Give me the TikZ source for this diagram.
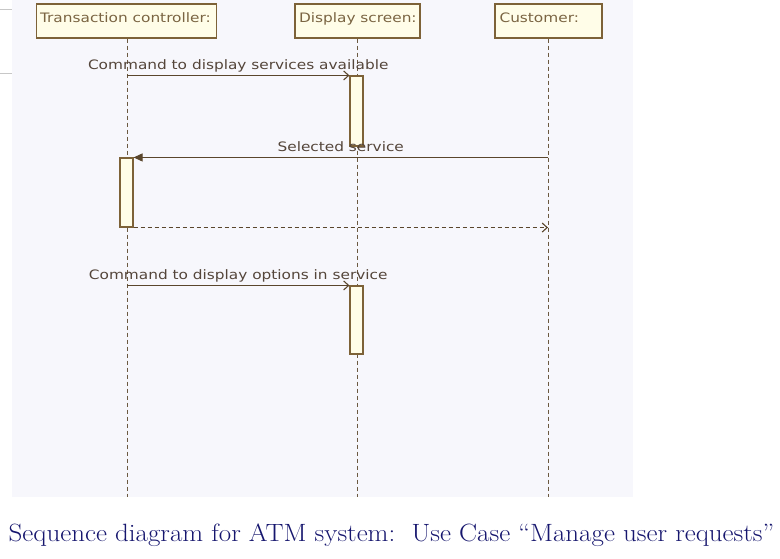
\documentclass[tikz,border=0pt]{standalone}
\usepackage{fontspec}
\newfontfamily\umlfont[FakeStretch=1.18]{DejaVu Sans}
\newfontfamily\captionfont[FakeStretch=1.08]{Latin Modern Roman}
\usetikzlibrary{arrows.meta}

\begin{document}
\begin{tikzpicture}[x=1pt,y=-1pt,line width=1.1pt,
  actor/.style={draw=umlbox,fill=umlfill,minimum width=#1,minimum height=34pt,inner sep=0pt},
  actorlabel/.style={anchor=base west,inner sep=0pt,text=umltext,font=\umlfont\fontsize{13}{15}\selectfont},
  activation/.style={draw=umlbox,fill=umlfill,minimum width=13pt,minimum height=#1,inner sep=0pt},
  lifeline/.style={draw=umlline!90,line width=1pt,dash pattern=on 4pt off 3pt},
  msg/.style={draw=umlline,-{Straight Barb[length=5pt,width=9pt]}},
  reply/.style={msg,dash pattern=on 4pt off 3pt},
  signal/.style={draw=umlline,-{Triangle[length=9pt,width=8pt]}},
  msglabel/.style={anchor=base,yshift=5.5pt,inner sep=0pt,text=msgtext,font=\umlfont\fontsize{13}{15}\selectfont}]
  \definecolor{panel}{HTML}{F7F7FC}
  \definecolor{umlline}{HTML}{5A462C}
  \definecolor{umlbox}{HTML}{7D6238}
  \definecolor{umlfill}{HTML}{FFFDE8}
  \definecolor{umltext}{HTML}{7A6442}
  \definecolor{msgtext}{HTML}{54453A}
  \definecolor{navy}{HTML}{16166E}
  \useasboundingbox (0,0) rectangle (780,559);
  % canvas of the tool and the two stray rules on its left
  \fill[panel] (12,0) rectangle (633,497);
  \draw[black!22,line width=0.7pt] (0,9) -- (12,9) (0,73) -- (12,73);
  % objects
  \node[actor=180pt] (tc) at (126.5,21) {};
  \node[actor=125pt] (ds) at (357.5,21) {};
  \node[actor=107pt] (cu) at (548.5,21) {};
  \node[actorlabel] (tclabel) at (39.5,22.5) {Transaction controller:};
  \node[actorlabel] (dslabel) at (298.5,22.5) {Display screen:};
  \node[actorlabel] (culabel) at (499,22.5) {Customer:};
  % lifelines
  \coordinate (tcend) at (127,497);
  \coordinate (dsend) at (357,497);
  \coordinate (cuend) at (548,497);
  \draw[lifeline] (tc.south -| tcend) -- (tcend);
  \draw[lifeline] (ds.south -| dsend) -- (dsend);
  \draw[lifeline] (cu.south -| cuend) -- (cuend);
  % activations
  \node[activation=70pt] (ds1) at (356.5,111) {};
  \node[activation=69pt] (tca) at (126.5,192.5) {};
  \node[activation=68pt] (ds2) at (356.5,320) {};
  % messages
  \coordinate (m1) at (tcend |- ds1.north);
  \coordinate (m2) at (cuend |- tca.north);
  \coordinate (m3) at (cuend |- tca.south);
  \coordinate (m4) at (tcend |- ds2.north);
  \draw[msg] (m1) -- node[msglabel] (m1label) {Command to display services available} (ds1.north west);
  \draw[signal] (m2) -- node[msglabel] (m2label) {Selected service} (tca.north east);
  \draw[reply] (tca.south east) -- (m3);
  \draw[msg] (m4) -- node[msglabel] (m4label) {Command to display options in service} (ds2.north west);
  % caption
  \node[anchor=base,inner sep=0pt,text=navy,font=\captionfont\fontsize{25}{30}\selectfont] (caption) at (391.5,541)
    {Sequence diagram for ATM system:\ \ Use Case “Manage user requests”};
\end{tikzpicture}
\end{document}
